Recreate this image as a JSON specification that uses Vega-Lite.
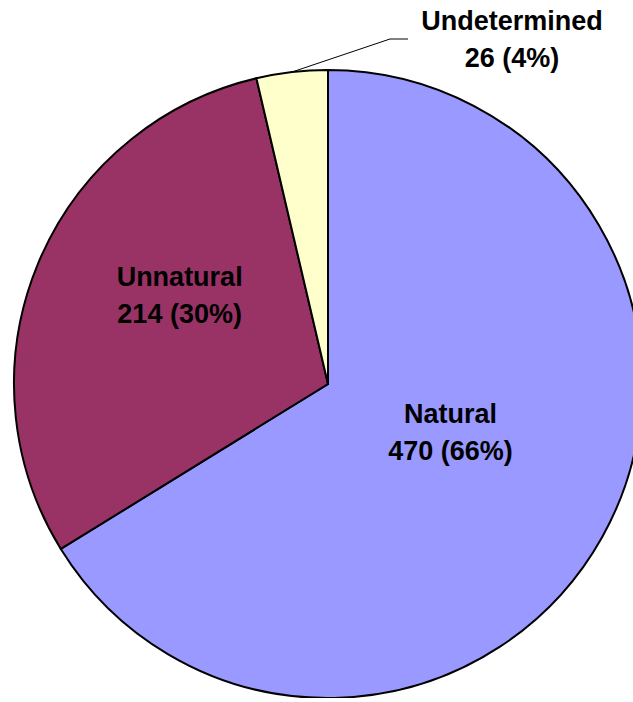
{
  "$schema": "https://vega.github.io/schema/vega-lite/v6.json",
  "width": 628,
  "height": 628,
  "autosize": {"type": "none"},
  "padding": {"left": 14, "top": 70, "right": 0, "bottom": 0},
  "background": "white",
  "config": {"view": {"stroke": null}},
  "datasets": {
    "slices": [
      {"cat": "Natural", "count": 470, "idx": 1, "label": "Natural\n470 (66%)"},
      {"cat": "Unnatural", "count": 214, "idx": 2, "label": "Unnatural\n214 (30%)"},
      {"cat": "Undetermined", "count": 26, "idx": 3, "label": "Undetermined\n26 (4%)"}
    ],
    "leader": [
      {"px": -0.1146, "py": 0.9936, "seq": 1},
      {"px": 0.1975, "py": 1.0987, "seq": 2},
      {"px": 0.2548, "py": 1.0987, "seq": 3}
    ]
  },
  "layer": [
    {
      "data": {"name": "slices"},
      "mark": {"type": "arc", "stroke": "black", "strokeWidth": 2},
      "encoding": {
        "theta": {"field": "count", "type": "quantitative", "stack": true},
        "order": {"field": "idx", "type": "quantitative"},
        "color": {
          "field": "cat",
          "type": "nominal",
          "scale": {"domain": ["Natural", "Unnatural", "Undetermined"], "range": ["#9999FF", "#993366", "#FFFFCC"]},
          "legend": null
        }
      }
    },
    {
      "data": {"name": "slices"},
      "mark": {"type": "text", "radius": 130, "dx": 9, "dy": -24, "font": "Liberation Sans", "fontWeight": "bold", "fontSize": 27, "lineBreak": "\n", "lineHeight": 37, "align": "center", "baseline": "alphabetic", "color": "black"},
      "encoding": {
        "theta": {"field": "count", "type": "quantitative", "stack": true},
        "order": {"field": "idx", "type": "quantitative"},
        "text": {"condition": {"test": "datum.cat === 'Natural'", "field": "label"}, "value": ""}
      }
    },
    {
      "data": {"name": "slices"},
      "mark": {"type": "text", "radius": 165, "dx": 4, "dy": -35, "font": "Liberation Sans", "fontWeight": "bold", "fontSize": 27, "lineBreak": "\n", "lineHeight": 37, "align": "center", "baseline": "alphabetic", "color": "black"},
      "encoding": {
        "theta": {"field": "count", "type": "quantitative", "stack": true},
        "order": {"field": "idx", "type": "quantitative"},
        "text": {"condition": {"test": "datum.cat === 'Unnatural'", "field": "label"}, "value": ""}
      }
    },
    {
      "data": {"name": "slices"},
      "mark": {"type": "text", "radius": 314, "dx": 220, "dy": -42, "font": "Liberation Sans", "fontWeight": "bold", "fontSize": 27, "lineBreak": "\n", "lineHeight": 37, "align": "center", "baseline": "alphabetic", "color": "black"},
      "encoding": {
        "theta": {"field": "count", "type": "quantitative", "stack": true},
        "order": {"field": "idx", "type": "quantitative"},
        "text": {"condition": {"test": "datum.cat === 'Undetermined'", "field": "label"}, "value": ""}
      }
    },
    {
      "data": {"name": "leader"},
      "mark": {"type": "line", "color": "black", "strokeWidth": 1, "clip": false},
      "encoding": {
        "x": {"field": "px", "type": "quantitative", "scale": {"domain": [-1, 1], "nice": false, "zero": false}, "axis": null},
        "y": {"field": "py", "type": "quantitative", "scale": {"domain": [-1, 1], "nice": false, "zero": false}, "axis": null},
        "order": {"field": "seq", "type": "quantitative"}
      }
    }
  ]
}
